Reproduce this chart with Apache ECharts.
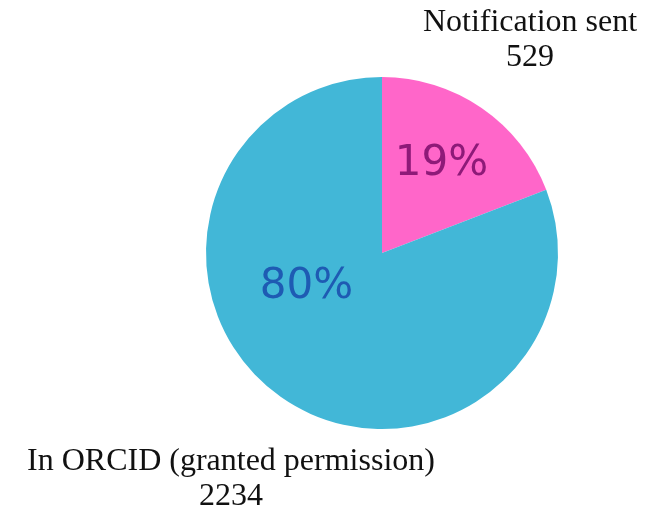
<!DOCTYPE html>
<html>
<head>
<meta charset="utf-8">
<script src="https://cdn.jsdelivr.net/npm/echarts@6/dist/echarts.min.js"></script>
<style>
html,body{margin:0;padding:0;background:#fff;}
#chart{width:653px;height:510px;}
</style>
</head>
<body>
<div id="chart"></div>
<script>
var categories = ["Notification sent", "In ORCID (granted permission)"];
var values = [529, 2234];

var sliceColors = ["#FF66C9", "#42B7D7"];
var pctColors = ["#8E1A78", "#1E5BB3"];
var pctOffsets = [[8, -14], [-24, -41]];
var outerPos = [[530, 5], [231, 444]];

var total = values.reduce(function (a, b) { return a + b; }, 0);
var chart = echarts.init(document.getElementById('chart'));

chart.setOption({
  animation: false,
  backgroundColor: '#fff',
  graphic: outerPos.map(function (p, i) {
    return {
      type: 'text',
      x: p[0], y: p[1],
      style: {
        text: categories[i] + '\n' + values[i],
        align: 'center', verticalAlign: 'top',
        font: '32px "Liberation Serif", "DejaVu Serif", serif',
        lineHeight: 35,
        fill: '#111'
      }
    };
  }),
  series: [{
    type: 'pie',
    center: [382, 253],
    radius: [0, 176],
    startAngle: 90,
    clockwise: true,
    silent: true,
    itemStyle: { borderWidth: 0 },
    labelLine: { show: false },
    data: categories.map(function (c, i) {
      return {
        name: c,
        value: values[i],
        itemStyle: { color: sliceColors[i] },
        label: {
          show: true,
          position: 'inside',
          offset: pctOffsets[i],
          formatter: function (p) { return Math.floor(p.value / total * 100) + '%'; },
          color: pctColors[i],
          fontSize: 42,
          fontFamily: '"DejaVu Sans", sans-serif',
          fontWeight: 'normal'
        }
      };
    })
  }]
});
</script>
</body>
</html>
